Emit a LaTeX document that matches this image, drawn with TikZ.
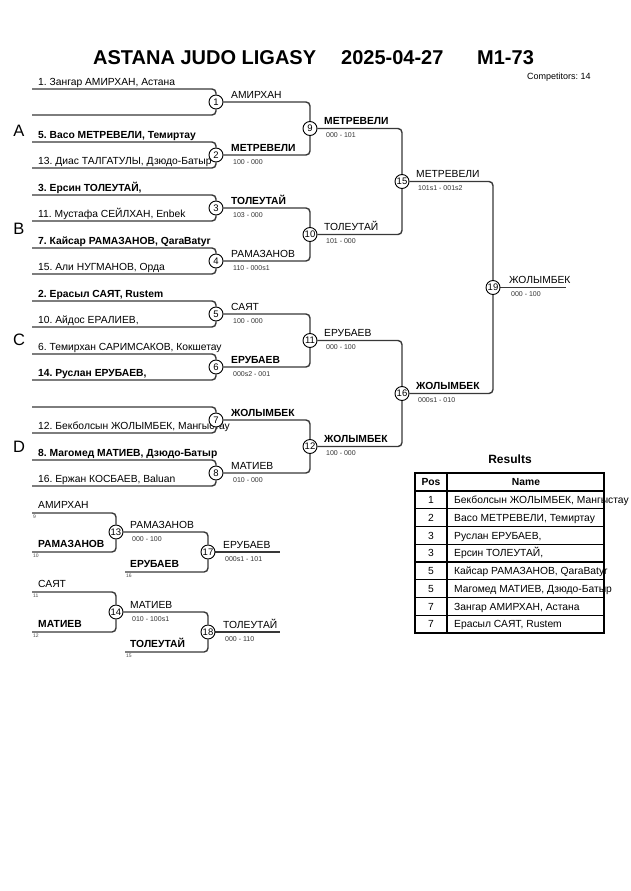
\documentclass[tikz,border=0pt]{standalone}
\usepackage{fontspec}
\setmainfont{Liberation Sans}
\usetikzlibrary{backgrounds}
\frenchspacing
\begin{document}
\begin{tikzpicture}[x=1pt,y=-1pt,
  ln/.style={line width=1.4pt, draw=black!78, rounded corners=4pt},
  mc/.style={circle, draw=black, line width=0.9pt, fill=white, inner sep=0pt, minimum size=14pt, font=\fontsize{9.5}{10}\selectfont},
  nm/.style={anchor=base west, inner sep=0pt, font=\fontsize{10.3}{12}\selectfont},
  nb/.style={anchor=base west, inner sep=0pt, font=\fontsize{10.3}{12}\selectfont\bfseries},
  sc/.style={anchor=base west, inner sep=0pt, font=\fontsize{7}{8}\selectfont, text=black!80},
  tn/.style={anchor=north west, inner sep=0pt, font=\fontsize{5}{6}\selectfont, text=black!70},
  grp/.style={inner sep=0pt, font=\fontsize{16.5}{18}\selectfont},
  ttl/.style={anchor=base west, inner sep=0pt, font=\fontsize{20}{22}\selectfont\bfseries},
  tbl/.style={line width=1.1pt, draw=black},
  tc/.style={anchor=base, inner sep=0pt, font=\fontsize{10.3}{12}\selectfont},
  tw/.style={anchor=base west, inner sep=0pt, font=\fontsize{10.3}{12}\selectfont},
  th/.style={anchor=base, inner sep=0pt, font=\fontsize{10.3}{12}\selectfont\bfseries},
]
\begin{pgfonlayer}{background}
\fill[white] (0,0) rectangle (630,891);
\end{pgfonlayer}
\useasboundingbox (0,0) rectangle (630,891);

% title
\node[ttl] (t1) at (93,65) {ASTANA JUDO LIGASY};
\node[ttl] (t2) at (341,65) {2025-04-27};
\node[ttl] (t3) at (477,65) {M1-73};
\node[anchor=base west, inner sep=0pt, font=\fontsize{9}{10}\selectfont] (comp) at (527,79) {Competitors: 14};

% group letters
\node[grp] (gA) at (19,131) {A};
\node[grp] (gB) at (19,229) {B};
\node[grp] (gC) at (19,340) {C};
\node[grp] (gD) at (19,447) {D};

% entries
\node[nm] (n1) at (38,85) {1. Зангар АМИРХАН, Астана};
\node[nb] (n5) at (38,138) {5. Васо МЕТРЕВЕЛИ, Темиртау};
\node[nm] (n13) at (38,164) {13. Диас ТАЛГАТУЛЫ, Дзюдо-Батыр};
\node[nb] (n3) at (38,191) {3. Ерсин ТОЛЕУТАЙ,};
\node[nm] (n11) at (38,217) {11. Мустафа СЕЙЛХАН, Enbek};
\node[nb] (n7) at (38,244) {7. Кайсар РАМАЗАНОВ, QaraBatyr};
\node[nm] (n15) at (38,270) {15. Али НУГМАНОВ, Орда};
\node[nb] (n2) at (38,297) {2. Ерасыл САЯТ, Rustem};
\node[nm] (n10) at (38,323) {10. Айдос ЕРАЛИЕВ,};
\node[nm] (n6) at (38,350) {6. Темирхан САРИМСАКОВ, Кокшетау};
\node[nb] (n14) at (38,376) {14. Руслан ЕРУБАЕВ,};
\node[nm] (n12) at (38,429) {12. Бекболсын ЖОЛЫМБЕК, Мангыстау};
\node[nb] (n8) at (38,456) {8. Магомед МАТИЕВ, Дзюдо-Батыр};
\node[nm] (n16) at (38,482) {16. Ержан КОСБАЕВ, Baluan};

% round labels
\node[nm] (w1) at (231,98) {АМИРХАН};
\node[nb] (w2) at (231,151) {МЕТРЕВЕЛИ};
\node[sc] (s2) at (233,164) {100 - 000};
\node[nb] (w3) at (231,204) {ТОЛЕУТАЙ};
\node[sc] (s3) at (233,217) {103 - 000};
\node[nm] (w4) at (231,257) {РАМАЗАНОВ};
\node[sc] (s4) at (233,270) {110 - 000s1};
\node[nm] (w5) at (231,310) {САЯТ};
\node[sc] (s5) at (233,323) {100 - 000};
\node[nb] (w6) at (231,363) {ЕРУБАЕВ};
\node[sc] (s6) at (233,376) {000s2 - 001};
\node[nb] (w7) at (231,416) {ЖОЛЫМБЕК};
\node[nm] (w8) at (231,469) {МАТИЕВ};
\node[sc] (s8) at (233,482) {010 - 000};
\node[nb] (w9) at (324,124.5) {МЕТРЕВЕЛИ};
\node[sc] (s9) at (326,137.5) {000 - 101};
\node[nm] (w10) at (324,230.5) {ТОЛЕУТАЙ};
\node[sc] (s10) at (326,243.5) {101 - 000};
\node[nm] (w11) at (324,336.5) {ЕРУБАЕВ};
\node[sc] (s11) at (326,349.5) {000 - 100};
\node[nb] (w12) at (324,442.5) {ЖОЛЫМБЕК};
\node[sc] (s12) at (326,455.5) {100 - 000};
\node[nm] (w15) at (416,177.5) {МЕТРЕВЕЛИ};
\node[sc] (s15) at (418,190.5) {101s1 - 001s2};
\node[nb] (w16) at (416,389.5) {ЖОЛЫМБЕК};
\node[sc] (s16) at (418,402.5) {000s1 - 010};
\node[nm] (w19) at (509,283.5) {ЖОЛЫМБЕК};
\node[sc] (s19) at (511,296.5) {000 - 100};

% repechage texts
\node[nm] (r9) at (38,508) {АМИРХАН};
\node[tn] (q9) at (33,515) {9};
\node[nb] (r10) at (38,547) {РАМАЗАНОВ};
\node[tn] (q10) at (33,554) {10};
\node[nm] (w13) at (130,528) {РАМАЗАНОВ};
\node[sc] (s13) at (132,541) {000 - 100};
\node[nb] (r16) at (130,567) {ЕРУБАЕВ};
\node[tn] (q16) at (126,574) {16};
\node[nm] (w17) at (223,548) {ЕРУБАЕВ};
\node[sc] (s17) at (225,561) {000s1 - 101};
\node[nm] (r11) at (38,587) {САЯТ};
\node[tn] (q11) at (33,594) {11};
\node[nb] (r12) at (38,627) {МАТИЕВ};
\node[tn] (q12) at (33,634) {12};
\node[nm] (w14) at (130,608) {МАТИЕВ};
\node[sc] (s14) at (132,621) {010 - 100s1};
\node[nb] (r15) at (130,647) {ТОЛЕУТАЙ};
\node[tn] (q15) at (126,654) {15};
\node[nm] (w18) at (223,628) {ТОЛЕУТАЙ};
\node[sc] (s18) at (225,641) {000 - 110};

% circles
\foreach \i/\x/\y in {1/216/102, 2/216/155, 3/216/208, 4/216/261, 5/216/314, 6/216/367, 7/216/420, 8/216/473,
  9/310/128.5, 10/310/234.5, 11/310/340.5, 12/310/446.5, 15/402/181.5, 16/402/393.5, 19/493/287.5,
  13/116/532, 14/116/612, 17/208/552, 18/208/632}
  \node[mc] (m\i) at (\x,\y) {\i};

\coordinate (fin) at (566,287.5);
\coordinate (fin17) at (280,552);
\coordinate (fin18) at (280,632);

\begin{pgfonlayer}{background}
\foreach \i/\ya/\yb in {1/89/115, 2/142/168, 3/195/221, 4/248/274, 5/301/327, 6/354/380, 7/407/433, 8/460/486}{
  \coordinate (a\i) at (32,\ya);
  \coordinate (b\i) at (32,\yb);
  \draw[ln] (a\i) -| (m\i);
  \draw[ln] (b\i) -| (m\i);
}
\foreach \s/\t in {1/9, 2/9, 3/10, 4/10, 5/11, 6/11, 7/12, 8/12, 9/15, 10/15, 11/16, 12/16, 15/19, 16/19, 13/17, 14/18}
  \draw[ln] (m\s) -| (m\t);
\draw[ln] (m19) -- (fin);
\draw[ln] (m17) -- (fin17);
\draw[ln] (m18) -- (fin18);
% repechage entries
\coordinate (ra9) at (32,513);
\coordinate (ra10) at (32,552);
\coordinate (ra16) at (125,572);
\coordinate (ra11) at (32,592);
\coordinate (ra12) at (32,632);
\coordinate (ra15) at (125,652);
\draw[ln] (ra9) -| (m13);
\draw[ln] (ra10) -| (m13);
\draw[ln] (ra16) -| (m17);
\draw[ln] (ra11) -| (m14);
\draw[ln] (ra12) -| (m14);
\draw[ln] (ra15) -| (m18);
\end{pgfonlayer}

% results table
\node[anchor=base, inner sep=0pt, font=\fontsize{12}{14}\selectfont\bfseries] (restitle) at (510,463) {Results};
\foreach \k in {0,...,7}
  \draw[tbl] (415,491+17.75*\k) -- (604,491+17.75*\k);
\draw[tbl] (447,473) -- (447,633);
\draw[line width=1.9pt] (415,473) rectangle (604,633);
\node[th] (hp) at (431,485.6) {Pos};
\node[th] (hn) at (526,485.6) {Name};
\node[tc] (p1) at (431,503.5) {1};
\node[tw] (x1) at (454,503.5) {Бекболсын ЖОЛЫМБЕК, Мангыстау};
\node[tc] (p2) at (431,521.2) {2};
\node[tw] (x2) at (454,521.2) {Васо МЕТРЕВЕЛИ, Темиртау};
\node[tc] (p3) at (431,539.0) {3};
\node[tw] (x3) at (454,539.0) {Руслан ЕРУБАЕВ,};
\node[tc] (p4) at (431,556.7) {3};
\node[tw] (x4) at (454,556.7) {Ерсин ТОЛЕУТАЙ,};
\node[tc] (p5) at (431,574.5) {5};
\node[tw] (x5) at (454,574.5) {Кайсар РАМАЗАНОВ, QaraBatyr};
\node[tc] (p6) at (431,592.2) {5};
\node[tw] (x6) at (454,592.2) {Магомед МАТИЕВ, Дзюдо-Батыр};
\node[tc] (p7) at (431,610.0) {7};
\node[tw] (x7) at (454,610.0) {Зангар АМИРХАН, Астана};
\node[tc] (p8) at (431,627.7) {7};
\node[tw] (x8) at (454,627.7) {Ерасыл САЯТ, Rustem};
\end{tikzpicture}
\end{document}
